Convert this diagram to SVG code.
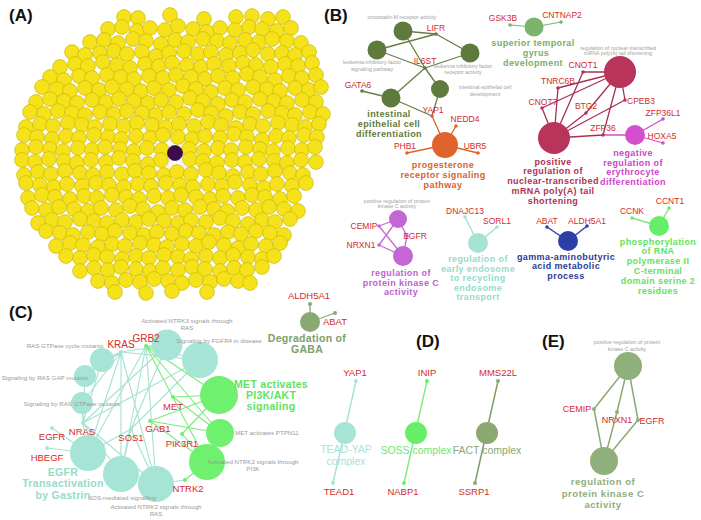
<svg xmlns="http://www.w3.org/2000/svg" xmlns:xlink="http://www.w3.org/1999/xlink" width="701" height="520" viewBox="0 0 701 520">
<style>
text{font-family:"Liberation Sans",Arial,sans-serif}
.hd{font-size:17px;font-weight:bold;fill:#111}
.yn{fill:#f5e21b;stroke:#c4b000;stroke-width:.6}
.g{font-size:8.5px;fill:#d42a2a;text-anchor:middle}
.g2{font-size:9.5px;fill:#d42a2a;text-anchor:middle}
.s{font-size:5.3px;fill:#a0a0a0;text-anchor:middle}
.s2{font-size:6.2px;fill:#9a9a9a;text-anchor:middle}
.b{font-size:9px;font-weight:bold;letter-spacing:.4px;text-anchor:middle}
.b2{font-size:10.5px;font-weight:bold;letter-spacing:.3px;text-anchor:middle}
.e{font-size:9.6px;font-weight:bold;letter-spacing:.5px;text-anchor:middle}
.d{font-size:10.5px;text-anchor:middle}
.ol{stroke:#6b7d46;stroke-width:1.3;fill:none}
.or{stroke:#d9642d;stroke-width:1.3;fill:none}
.lg{stroke:#7fb46a;stroke-width:1.2;fill:none}
.cr{stroke:#aa2f52;stroke-width:1.3;fill:none}
.mg{stroke:#d04fcc;stroke-width:1.3;fill:none}
.pu{stroke:#c46ad6;stroke-width:1.3;fill:none}
.te{stroke:#a4e2d2;stroke-width:1.1;fill:none}
.bl{stroke:#2c3fa6;stroke-width:1.4;fill:none}
.gr{stroke:#78ec78;stroke-width:1.1;fill:none}
.eo{stroke:#8aab76;stroke-width:1.5;fill:none}
.ga{stroke:#d2d2d2;stroke-width:.5;fill:none}
</style>
<defs>
<circle id="n" r="7.4" class="yn"/>
</defs>
<rect width="701" height="520" fill="#fff"/>

<!-- Panel A -->
<text class="hd" x="9" y="21">(A)</text>
<g id="A-edges">
<path class="ga" d="M175 153L124 17M175 153L204 19M175 153L283 17M175 153L72 52M175 153L309 52M175 153L42 89M175 153L321 89M175 153L30 113M175 153L323 113M175 153L22 149M175 153L315 149M175 153L24 173M175 153L303 173M175 153L28 197M175 153L294 197M175 153L46 233M175 153L284 233M175 153L80 269M175 153L262 269M175 153L115 292M175 153L207 292M175 153L146 292M175 153L250 281M175 153L98 281M175 153L60 65M175 153L312 65"/>
</g>
<g id="A-nodes">
<g transform="translate(0,17)"><use href="#n" x="124" y="0"/><use href="#n" x="138" y="1"/><use href="#n" x="170" y="-2"/><use href="#n" x="204" y="2"/><use href="#n" x="236" y="0"/><use href="#n" x="252" y="-1"/><use href="#n" x="268" y="2"/><use href="#n" x="283" y="0"/></g>
<g transform="translate(0,29)"><use href="#n" x="108" y="0"/><use href="#n" x="122" y="-2"/><use href="#n" x="137" y="2"/><use href="#n" x="150" y="-1"/><use href="#n" x="165" y="1"/><use href="#n" x="178" y="-3"/><use href="#n" x="193" y="0"/><use href="#n" x="207" y="3"/><use href="#n" x="220" y="-1"/><use href="#n" x="235" y="1"/><use href="#n" x="249" y="-2"/><use href="#n" x="262" y="0"/><use href="#n" x="277" y="2"/><use href="#n" x="291" y="-1"/></g>
<g transform="translate(0,41)"><use href="#n" x="90" y="1"/><use href="#n" x="104" y="-1"/><use href="#n" x="118" y="2"/><use href="#n" x="133" y="-2"/><use href="#n" x="146" y="0"/><use href="#n" x="161" y="3"/><use href="#n" x="175" y="-1"/><use href="#n" x="188" y="1"/><use href="#n" x="203" y="-2"/><use href="#n" x="217" y="0"/><use href="#n" x="230" y="2"/><use href="#n" x="245" y="-1"/><use href="#n" x="259" y="1"/><use href="#n" x="272" y="-2"/><use href="#n" x="287" y="0"/><use href="#n" x="301" y="2"/></g>
<g transform="translate(0,53)"><use href="#n" x="72" y="-1"/><use href="#n" x="85" y="2"/><use href="#n" x="100" y="0"/><use href="#n" x="114" y="-2"/><use href="#n" x="127" y="1"/><use href="#n" x="142" y="-1"/><use href="#n" x="156" y="3"/><use href="#n" x="169" y="0"/><use href="#n" x="184" y="-2"/><use href="#n" x="198" y="1"/><use href="#n" x="211" y="-1"/><use href="#n" x="226" y="2"/><use href="#n" x="240" y="0"/><use href="#n" x="253" y="-3"/><use href="#n" x="268" y="1"/><use href="#n" x="282" y="0"/><use href="#n" x="295" y="2"/><use href="#n" x="309" y="-1"/></g>
<g transform="translate(0,65)"><use href="#n" x="60" y="2"/><use href="#n" x="75" y="-1"/><use href="#n" x="88" y="1"/><use href="#n" x="103" y="-3"/><use href="#n" x="117" y="0"/><use href="#n" x="130" y="3"/><use href="#n" x="145" y="-1"/><use href="#n" x="159" y="1"/><use href="#n" x="172" y="-2"/><use href="#n" x="187" y="0"/><use href="#n" x="201" y="2"/><use href="#n" x="214" y="-1"/><use href="#n" x="229" y="1"/><use href="#n" x="243" y="-2"/><use href="#n" x="256" y="0"/><use href="#n" x="271" y="2"/><use href="#n" x="285" y="-1"/><use href="#n" x="298" y="1"/><use href="#n" x="312" y="-2"/></g>
<g transform="translate(0,77)"><use href="#n" x="50" y="0"/><use href="#n" x="64" y="3"/><use href="#n" x="79" y="-1"/><use href="#n" x="92" y="1"/><use href="#n" x="107" y="-2"/><use href="#n" x="121" y="0"/><use href="#n" x="134" y="2"/><use href="#n" x="149" y="-1"/><use href="#n" x="163" y="1"/><use href="#n" x="176" y="-2"/><use href="#n" x="191" y="0"/><use href="#n" x="205" y="2"/><use href="#n" x="218" y="-1"/><use href="#n" x="233" y="1"/><use href="#n" x="247" y="-3"/><use href="#n" x="260" y="0"/><use href="#n" x="275" y="3"/><use href="#n" x="289" y="-1"/><use href="#n" x="302" y="1"/><use href="#n" x="316" y="-2"/></g>
<g transform="translate(0,89)"><use href="#n" x="42" y="-2"/><use href="#n" x="57" y="0"/><use href="#n" x="70" y="2"/><use href="#n" x="85" y="-1"/><use href="#n" x="99" y="1"/><use href="#n" x="112" y="-2"/><use href="#n" x="127" y="0"/><use href="#n" x="141" y="2"/><use href="#n" x="154" y="-1"/><use href="#n" x="169" y="1"/><use href="#n" x="183" y="-3"/><use href="#n" x="196" y="0"/><use href="#n" x="211" y="3"/><use href="#n" x="225" y="-1"/><use href="#n" x="238" y="1"/><use href="#n" x="253" y="-2"/><use href="#n" x="267" y="0"/><use href="#n" x="280" y="2"/><use href="#n" x="295" y="-1"/><use href="#n" x="309" y="1"/><use href="#n" x="321" y="-2"/></g>
<g transform="translate(0,101)"><use href="#n" x="36" y="1"/><use href="#n" x="50" y="-2"/><use href="#n" x="64" y="0"/><use href="#n" x="77" y="2"/><use href="#n" x="92" y="-1"/><use href="#n" x="106" y="1"/><use href="#n" x="119" y="-2"/><use href="#n" x="134" y="0"/><use href="#n" x="148" y="2"/><use href="#n" x="161" y="-1"/><use href="#n" x="176" y="1"/><use href="#n" x="190" y="-3"/><use href="#n" x="203" y="0"/><use href="#n" x="218" y="3"/><use href="#n" x="232" y="-1"/><use href="#n" x="245" y="1"/><use href="#n" x="260" y="-2"/><use href="#n" x="274" y="0"/><use href="#n" x="287" y="2"/><use href="#n" x="302" y="-1"/><use href="#n" x="316" y="1"/></g>
<g transform="translate(0,113)"><use href="#n" x="30" y="-1"/><use href="#n" x="44" y="1"/><use href="#n" x="58" y="-2"/><use href="#n" x="72" y="0"/><use href="#n" x="85" y="2"/><use href="#n" x="100" y="-1"/><use href="#n" x="114" y="1"/><use href="#n" x="127" y="-2"/><use href="#n" x="142" y="0"/><use href="#n" x="156" y="2"/><use href="#n" x="169" y="-1"/><use href="#n" x="184" y="1"/><use href="#n" x="198" y="-3"/><use href="#n" x="211" y="0"/><use href="#n" x="226" y="3"/><use href="#n" x="240" y="-1"/><use href="#n" x="253" y="1"/><use href="#n" x="268" y="-2"/><use href="#n" x="282" y="0"/><use href="#n" x="295" y="2"/><use href="#n" x="310" y="-1"/><use href="#n" x="323" y="1"/></g>
<g transform="translate(0,125)"><use href="#n" x="26" y="2"/><use href="#n" x="40" y="-1"/><use href="#n" x="53" y="1"/><use href="#n" x="68" y="-2"/><use href="#n" x="82" y="0"/><use href="#n" x="95" y="2"/><use href="#n" x="110" y="-1"/><use href="#n" x="124" y="1"/><use href="#n" x="137" y="-2"/><use href="#n" x="152" y="0"/><use href="#n" x="166" y="2"/><use href="#n" x="179" y="-1"/><use href="#n" x="194" y="1"/><use href="#n" x="208" y="-3"/><use href="#n" x="221" y="0"/><use href="#n" x="236" y="3"/><use href="#n" x="250" y="-1"/><use href="#n" x="263" y="1"/><use href="#n" x="278" y="-2"/><use href="#n" x="292" y="0"/><use href="#n" x="305" y="2"/><use href="#n" x="319" y="-1"/></g>
<g transform="translate(0,137)"><use href="#n" x="24" y="-2"/><use href="#n" x="37" y="0"/><use href="#n" x="52" y="2"/><use href="#n" x="66" y="-1"/><use href="#n" x="79" y="1"/><use href="#n" x="94" y="-2"/><use href="#n" x="108" y="0"/><use href="#n" x="121" y="2"/><use href="#n" x="136" y="-1"/><use href="#n" x="150" y="1"/><use href="#n" x="163" y="-2"/><use href="#n" x="178" y="0"/><use href="#n" x="192" y="2"/><use href="#n" x="205" y="-1"/><use href="#n" x="220" y="1"/><use href="#n" x="234" y="-3"/><use href="#n" x="247" y="0"/><use href="#n" x="262" y="3"/><use href="#n" x="276" y="-1"/><use href="#n" x="289" y="1"/><use href="#n" x="304" y="-2"/><use href="#n" x="317" y="0"/></g>
<g transform="translate(0,149)"><use href="#n" x="22" y="1"/><use href="#n" x="36" y="-2"/><use href="#n" x="50" y="0"/><use href="#n" x="63" y="2"/><use href="#n" x="78" y="-1"/><use href="#n" x="92" y="1"/><use href="#n" x="105" y="-2"/><use href="#n" x="120" y="0"/><use href="#n" x="134" y="2"/><use href="#n" x="147" y="-1"/><use href="#n" x="162" y="1"/><use href="#n" x="189" y="0"/><use href="#n" x="204" y="2"/><use href="#n" x="218" y="-1"/><use href="#n" x="231" y="1"/><use href="#n" x="246" y="-2"/><use href="#n" x="260" y="0"/><use href="#n" x="273" y="2"/><use href="#n" x="288" y="-1"/><use href="#n" x="302" y="1"/><use href="#n" x="315" y="-2"/></g>
<g transform="translate(0,161)"><use href="#n" x="22" y="-1"/><use href="#n" x="35" y="1"/><use href="#n" x="49" y="-2"/><use href="#n" x="64" y="0"/><use href="#n" x="77" y="2"/><use href="#n" x="91" y="-1"/><use href="#n" x="106" y="1"/><use href="#n" x="119" y="-3"/><use href="#n" x="133" y="0"/><use href="#n" x="148" y="3"/><use href="#n" x="161" y="-1"/><use href="#n" x="190" y="-2"/><use href="#n" x="203" y="0"/><use href="#n" x="217" y="2"/><use href="#n" x="232" y="-1"/><use href="#n" x="245" y="1"/><use href="#n" x="259" y="-2"/><use href="#n" x="274" y="0"/><use href="#n" x="287" y="2"/><use href="#n" x="301" y="-1"/><use href="#n" x="316" y="1"/></g>
<g transform="translate(0,173)"><use href="#n" x="24" y="2"/><use href="#n" x="38" y="-1"/><use href="#n" x="51" y="1"/><use href="#n" x="65" y="-2"/><use href="#n" x="80" y="0"/><use href="#n" x="93" y="2"/><use href="#n" x="107" y="-1"/><use href="#n" x="122" y="1"/><use href="#n" x="135" y="-2"/><use href="#n" x="149" y="0"/><use href="#n" x="164" y="2"/><use href="#n" x="177" y="-1"/><use href="#n" x="191" y="1"/><use href="#n" x="206" y="-3"/><use href="#n" x="219" y="0"/><use href="#n" x="233" y="3"/><use href="#n" x="248" y="-1"/><use href="#n" x="261" y="1"/><use href="#n" x="275" y="-2"/><use href="#n" x="290" y="0"/><use href="#n" x="303" y="2"/></g>
<g transform="translate(0,185)"><use href="#n" x="26" y="-2"/><use href="#n" x="40" y="0"/><use href="#n" x="54" y="2"/><use href="#n" x="67" y="-1"/><use href="#n" x="82" y="1"/><use href="#n" x="96" y="-2"/><use href="#n" x="109" y="0"/><use href="#n" x="124" y="2"/><use href="#n" x="138" y="-1"/><use href="#n" x="151" y="1"/><use href="#n" x="166" y="-2"/><use href="#n" x="180" y="0"/><use href="#n" x="193" y="2"/><use href="#n" x="208" y="-1"/><use href="#n" x="222" y="1"/><use href="#n" x="235" y="-3"/><use href="#n" x="250" y="0"/><use href="#n" x="264" y="3"/><use href="#n" x="277" y="-1"/><use href="#n" x="292" y="1"/><use href="#n" x="306" y="-2"/></g>
<g transform="translate(0,197)"><use href="#n" x="28" y="1"/><use href="#n" x="42" y="-2"/><use href="#n" x="55" y="0"/><use href="#n" x="70" y="2"/><use href="#n" x="84" y="-1"/><use href="#n" x="97" y="1"/><use href="#n" x="112" y="-2"/><use href="#n" x="126" y="0"/><use href="#n" x="139" y="2"/><use href="#n" x="154" y="-1"/><use href="#n" x="168" y="1"/><use href="#n" x="181" y="-2"/><use href="#n" x="196" y="0"/><use href="#n" x="210" y="2"/><use href="#n" x="223" y="-1"/><use href="#n" x="238" y="1"/><use href="#n" x="252" y="-2"/><use href="#n" x="265" y="0"/><use href="#n" x="280" y="2"/><use href="#n" x="294" y="-1"/></g>
<g transform="translate(0,209)"><use href="#n" x="32" y="-1"/><use href="#n" x="46" y="1"/><use href="#n" x="59" y="-2"/><use href="#n" x="74" y="0"/><use href="#n" x="88" y="2"/><use href="#n" x="101" y="-1"/><use href="#n" x="116" y="1"/><use href="#n" x="130" y="-3"/><use href="#n" x="143" y="0"/><use href="#n" x="158" y="3"/><use href="#n" x="172" y="-1"/><use href="#n" x="185" y="1"/><use href="#n" x="200" y="-2"/><use href="#n" x="214" y="0"/><use href="#n" x="227" y="2"/><use href="#n" x="242" y="-1"/><use href="#n" x="256" y="1"/><use href="#n" x="269" y="-2"/><use href="#n" x="284" y="0"/><use href="#n" x="298" y="2"/></g>
<g transform="translate(0,221)"><use href="#n" x="38" y="2"/><use href="#n" x="52" y="-1"/><use href="#n" x="65" y="1"/><use href="#n" x="80" y="-2"/><use href="#n" x="94" y="0"/><use href="#n" x="107" y="2"/><use href="#n" x="122" y="-1"/><use href="#n" x="136" y="1"/><use href="#n" x="149" y="-2"/><use href="#n" x="164" y="0"/><use href="#n" x="178" y="2"/><use href="#n" x="191" y="-1"/><use href="#n" x="206" y="1"/><use href="#n" x="220" y="-3"/><use href="#n" x="233" y="0"/><use href="#n" x="248" y="3"/><use href="#n" x="262" y="-1"/><use href="#n" x="275" y="1"/><use href="#n" x="290" y="-2"/></g>
<g transform="translate(0,233)"><use href="#n" x="46" y="-2"/><use href="#n" x="60" y="0"/><use href="#n" x="73" y="2"/><use href="#n" x="88" y="-1"/><use href="#n" x="102" y="1"/><use href="#n" x="115" y="-2"/><use href="#n" x="130" y="0"/><use href="#n" x="144" y="2"/><use href="#n" x="157" y="-1"/><use href="#n" x="172" y="1"/><use href="#n" x="186" y="-2"/><use href="#n" x="199" y="0"/><use href="#n" x="214" y="2"/><use href="#n" x="228" y="-1"/><use href="#n" x="241" y="1"/><use href="#n" x="256" y="-2"/><use href="#n" x="270" y="0"/><use href="#n" x="284" y="2"/></g>
<g transform="translate(0,245)"><use href="#n" x="56" y="1"/><use href="#n" x="70" y="-2"/><use href="#n" x="83" y="0"/><use href="#n" x="98" y="2"/><use href="#n" x="112" y="-1"/><use href="#n" x="125" y="1"/><use href="#n" x="140" y="-2"/><use href="#n" x="154" y="0"/><use href="#n" x="167" y="2"/><use href="#n" x="182" y="-1"/><use href="#n" x="196" y="1"/><use href="#n" x="209" y="-3"/><use href="#n" x="224" y="0"/><use href="#n" x="238" y="3"/><use href="#n" x="251" y="-1"/><use href="#n" x="266" y="1"/><use href="#n" x="280" y="-2"/></g>
<g transform="translate(0,257)"><use href="#n" x="66" y="-1"/><use href="#n" x="80" y="1"/><use href="#n" x="94" y="-2"/><use href="#n" x="107" y="0"/><use href="#n" x="122" y="2"/><use href="#n" x="136" y="-1"/><use href="#n" x="149" y="1"/><use href="#n" x="164" y="-2"/><use href="#n" x="178" y="0"/><use href="#n" x="191" y="2"/><use href="#n" x="206" y="-1"/><use href="#n" x="220" y="1"/><use href="#n" x="233" y="-2"/><use href="#n" x="248" y="0"/><use href="#n" x="262" y="2"/><use href="#n" x="274" y="-1"/></g>
<g transform="translate(0,269)"><use href="#n" x="80" y="2"/><use href="#n" x="94" y="-1"/><use href="#n" x="108" y="1"/><use href="#n" x="121" y="-2"/><use href="#n" x="136" y="0"/><use href="#n" x="150" y="2"/><use href="#n" x="163" y="-1"/><use href="#n" x="178" y="1"/><use href="#n" x="192" y="-2"/><use href="#n" x="205" y="0"/><use href="#n" x="220" y="2"/><use href="#n" x="234" y="-1"/><use href="#n" x="247" y="1"/><use href="#n" x="262" y="-2"/></g>
<g transform="translate(0,281)"><use href="#n" x="98" y="0"/><use href="#n" x="112" y="2"/><use href="#n" x="126" y="-1"/><use href="#n" x="140" y="1"/><use href="#n" x="154" y="-2"/><use href="#n" x="168" y="0"/><use href="#n" x="182" y="2"/><use href="#n" x="196" y="-1"/><use href="#n" x="210" y="1"/><use href="#n" x="224" y="-2"/><use href="#n" x="238" y="0"/><use href="#n" x="250" y="2"/></g>
<g transform="translate(0,292)"><use href="#n" x="115" y="0"/><use href="#n" x="146" y="1"/><use href="#n" x="172" y="-1"/><use href="#n" x="207" y="0"/></g>
<circle cx="175" cy="153" r="7.6" fill="#3e0a4c" stroke="#22042a" stroke-width=".6"/>
</g>

<!-- Panel B -->
<text class="hd" x="324" y="21">(B)</text>
<g id="B-edges">
<path class="ol" d="M403 31L436 34M403 31L425 68M436 34L377 50M436 34L470 53M377 50L425 68M470 53L425 68M425 68L391 98M425 68L440 89M362 91L391 98M391 98L432 116M440 89L432 116"/>
<path class="or" d="M432 116L445 145M456 126L445 145M407 153L445 145M478 153L445 145"/>
<path class="lg" d="M510 25L534 27L561 22"/>
<path class="cr" d="M583 72L620 72M583 72L554 138M558 88L620 72M558 88L554 138M542 108L620 72M542 108L554 138M586 113L620 72M586 113L554 138M625 100L620 72M625 100L554 138M603 135L620 72M603 135L554 138"/>
<path class="mg" d="M603 135L635 135M663 119L635 135M663 143L635 135"/>
<path class="pu" d="M379 226L398 219M379 226L403 256M379 245L398 219M379 245L403 256M407 236L398 219M407 236L403 256"/>
<path class="te" d="M465 217L478 243M497 227L478 243" style="stroke-width:1.4"/>
<path class="bl" d="M547 227L568 241M587 226L568 241"/>
<path class="gr" d="M632 218L659 226M669 208L659 226" style="stroke-width:1.4"/>
</g>
<g id="B-olive" fill="#5e7a3c">
<circle cx="403" cy="31" r="9.5"/><circle cx="377" cy="50" r="9.5"/><circle cx="470" cy="53" r="9.5"/><circle cx="440" cy="89" r="9"/><circle cx="391" cy="98" r="9.5"/>
<circle cx="436" cy="34" r="1.8"/><circle cx="425" cy="68" r="1.8"/><circle cx="362" cy="91" r="1.8"/>
<text class="s" x="402" y="19">oncostatin-M receptor activity</text>
<text class="s" x="372" y="64">leukemia inhibitory factor</text><text class="s" x="372" y="71">signaling pathway</text>
<text class="s" x="463" y="68">leukemia inhibitory factor</text><text class="s" x="463" y="74">receptor activity</text>
<text class="s" x="485" y="89">intestinal epithelial cell</text><text class="s" x="485" y="96">development</text>
<text class="g" x="436" y="31">LIFR</text><text class="g" x="425" y="64">IL6ST</text><text class="g" x="358" y="88">GATA6</text>
<text class="b" x="389" y="117" fill="#5e7a3c">intestinal</text><text class="b" x="389" y="127" fill="#5e7a3c">epithelial cell</text><text class="b" x="389" y="137" fill="#5e7a3c">differentiation</text>
</g>
<g id="B-progesterone" fill="#e0632b">
<circle cx="445" cy="145" r="13"/>
<circle cx="432" cy="116" r="1.8"/><circle cx="456" cy="126" r="1.8"/><circle cx="407" cy="153" r="1.8"/><circle cx="478" cy="153" r="1.8"/>
<text class="g" x="433" y="113">YAP1</text><text class="g" x="465" y="122">NEDD4</text><text class="g" x="405" y="149">PHB1</text><text class="g" x="475" y="149">UBR5</text>
<text class="b" x="443" y="168" fill="#d9622a">progesterone</text><text class="b" x="443" y="178" fill="#d9622a">receptor signaling</text><text class="b" x="443" y="188" fill="#d9622a">pathway</text>
</g>
<g id="B-superior" fill="#7db36a">
<circle cx="534" cy="27" r="9.5"/><circle cx="510" cy="25" r="1.8"/><circle cx="561" cy="22" r="1.8"/>
<text class="g" x="503" y="21">GSK3B</text><text class="g" x="562" y="18">CNTNAP2</text>
<text class="b" x="533" y="46" fill="#7aae62">superior temporal</text><text class="b" x="536" y="56" fill="#7aae62">gyrus</text><text class="b" x="533" y="66" fill="#7aae62">development</text>
</g>
<g id="B-mrna" fill="#b8345a">
<circle cx="620" cy="72" r="16"/><circle cx="554" cy="138" r="16"/>
<circle cx="583" cy="72" r="1.8"/><circle cx="558" cy="88" r="1.8"/><circle cx="542" cy="108" r="1.8"/><circle cx="586" cy="113" r="1.8"/><circle cx="625" cy="100" r="1.8"/><circle cx="603" cy="135" r="1.8"/>
<text class="s" x="618" y="50">regulation of nuclear-transcribed</text><text class="s" x="618" y="55">mRNA poly(A) tail shortening</text>
<text class="g" x="583" y="68">CNOT1</text><text class="g" x="558" y="84">TNRC6B</text><text class="g" x="543" y="105">CNOT7</text><text class="g" x="586" y="109">BTG2</text><text class="g" x="641" y="104">CPEB3</text><text class="g" x="603" y="131">ZFP36</text>
<text class="b" x="553" y="165" fill="#b03055">positive</text><text class="b" x="553" y="174" fill="#b03055">regulation of</text><text class="b" x="553" y="184" fill="#b03055">nuclear-transcribed</text><text class="b" x="553" y="194" fill="#b03055">mRNA poly(A) tail</text><text class="b" x="553" y="204" fill="#b03055">shortening</text>
</g>
<g id="B-erythro" fill="#d34fce">
<circle cx="635" cy="135" r="10"/><circle cx="663" cy="119" r="1.8"/><circle cx="663" cy="143" r="1.8"/>
<text class="g" x="663" y="116">ZFP36L1</text><text class="g" x="662" y="139">HOXA5</text>
<text class="b" x="633" y="156" fill="#cc44c8">negative</text><text class="b" x="633" y="166" fill="#cc44c8">regulation of</text><text class="b" x="633" y="175" fill="#cc44c8">erythrocyte</text><text class="b" x="633" y="185" fill="#cc44c8">differentiation</text>
</g>
<g id="B-pkc" fill="#c566d6">
<circle cx="398" cy="219" r="9"/><circle cx="403" cy="256" r="10"/>
<circle cx="379" cy="226" r="1.8"/><circle cx="379" cy="245" r="1.8"/><circle cx="407" cy="236" r="1.8"/>
<text class="s" x="397" y="203">positive regulation of protein</text><text class="s" x="397" y="208">kinase C activity</text>
<text class="g" x="364" y="229">CEMIP</text><text class="g" x="361" y="248">NRXN1</text><text class="g" x="415" y="239">EGFR</text>
<text class="b" x="401" y="276" fill="#c060d0">regulation of</text><text class="b" x="401" y="286" fill="#c060d0">protein kinase C</text><text class="b" x="401" y="295" fill="#c060d0">activity</text>
</g>
<g id="B-endosome" fill="#a5e3d4">
<circle cx="478" cy="243" r="10"/><circle cx="465" cy="217" r="1.8"/><circle cx="497" cy="227" r="1.8"/>
<text class="g" x="465" y="214">DNAJC13</text><text class="g" x="497" y="224">SORL1</text>
<text class="b" x="478" y="262" fill="#95dccb">regulation of</text><text class="b" x="478" y="272" fill="#95dccb">early endosome</text><text class="b" x="478" y="281" fill="#95dccb">to recycling</text><text class="b" x="478" y="291" fill="#95dccb">endosome</text><text class="b" x="478" y="300" fill="#95dccb">transport</text>
</g>
<g id="B-gaba" fill="#2c3fa6">
<circle cx="568" cy="241" r="10"/><circle cx="547" cy="227" r="1.8"/><circle cx="587" cy="226" r="1.8"/>
<text class="g" x="547" y="224">ABAT</text><text class="g" x="587" y="224">ALDH5A1</text>
<text class="b" x="566" y="260" fill="#2a3a96">gamma-aminobutyric</text><text class="b" x="566" y="269" fill="#2a3a96">acid metabolic</text><text class="b" x="566" y="279" fill="#2a3a96">process</text>
</g>
<g id="B-rnapol" fill="#66ee6a">
<circle cx="659" cy="226" r="10"/><circle cx="632" cy="218" r="1.8"/><circle cx="669" cy="208" r="1.8"/>
<text class="g" x="632" y="214">CCNK</text><text class="g" x="670" y="204">CCNT1</text>
<text class="b" x="658" y="245" fill="#5ee35e">phosphorylation</text><text class="b" x="658" y="254" fill="#5ee35e">of RNA</text><text class="b" x="658" y="264" fill="#5ee35e">polymerase II</text><text class="b" x="658" y="274" fill="#5ee35e">C-terminal</text><text class="b" x="658" y="284" fill="#5ee35e">domain serine 2</text><text class="b" x="658" y="294" fill="#5ee35e">residues</text>
</g>

<!-- Panel C -->
<text class="hd" x="9" y="318">(C)</text>
<g id="C-edges">
<path class="te" d="M121 352L102 360M121 352L85 376M121 352L82 403M121 352L167 345M121 352L200 360M121 352L88 453M121 352L121 474M121 352L156 484
M83 423L102 360M83 423L85 376M83 423L82 403M83 423L167 345M83 423L200 360M83 423L88 453M83 423L121 474M83 423L156 484
M131 429L167 345M131 429L200 360M131 429L88 453M131 429L121 474M131 429L156 484
M146 346L167 345M146 346L200 360M146 346L88 453M146 346L121 474M146 346L156 484
M185 480L156 484M52 428L88 453M47 448L88 453"/>
<path class="gr" d="M146 346L219 395M146 346L220 433M146 346L207 462M173 397L219 395M173 397L220 433M150 421L219 395M150 421L220 433M150 421L207 462M182 434L219 395M182 434L207 462M185 480L207 462"/>
<path class="ol" d="M310 304L310 322M335 313L310 322" style="stroke:#8aa872"/>
</g>
<g id="C-teal" fill="#a6e5d5">
<circle cx="102" cy="360" r="12"/><circle cx="85" cy="376" r="11"/><circle cx="82" cy="403" r="11"/><circle cx="167" cy="345" r="15.5"/><circle cx="200" cy="360" r="18"/><circle cx="88" cy="453" r="18"/><circle cx="121" cy="474" r="18"/><circle cx="156" cy="484" r="18"/>
<circle cx="121" cy="352" r="2"/><circle cx="83" cy="423" r="2"/><circle cx="131" cy="429" r="2"/><circle cx="52" cy="428" r="2"/><circle cx="47" cy="448" r="2"/>
</g>
<g id="C-green" fill="#6ff06f">
<circle cx="219" cy="395" r="19"/><circle cx="220" cy="433" r="14"/><circle cx="207" cy="462" r="18"/>
<circle cx="146" cy="346" r="2"/><circle cx="173" cy="397" r="2"/><circle cx="150" cy="421" r="2"/><circle cx="182" cy="434" r="2"/><circle cx="185" cy="480" r="2"/>
</g>
<g id="C-labels">
<text class="s2" x="187" y="323">Activated NTRK3 signals through</text><text class="s2" x="187" y="330">RAS</text>
<text class="s2" x="65" y="348">RAS GTPase cycle mutants</text>
<text class="s2" x="219" y="343">Signaling by FGFR4 in disease</text>
<text class="s2" x="45" y="380">Signaling by RAS GAP mutants</text>
<text class="s2" x="72" y="406">Signaling by RAS GTPase mutants</text>
<text class="s2" x="122" y="500">SOS-mediated signalling</text>
<text class="s2" x="156" y="509">Activated NTRK2 signals through</text><text class="s2" x="156" y="516">RAS</text>
<text class="s2" x="235" y="435" style="text-anchor:start">MET activates PTPN11</text>
<text class="s2" x="253" y="464">Activated NTRK2 signals through</text><text class="s2" x="253" y="471">PI3K</text>
<text class="g2" x="121" y="348" style="font-size:10px">KRAS</text><text class="g2" x="146" y="342" style="font-size:10px">GRB2</text>
<text class="g2" x="82" y="435">NRAS</text><text class="g2" x="131" y="441">SOS1</text><text class="g2" x="52" y="440">EGFR</text><text class="g2" x="47" y="461">HBEGF</text>
<text class="g2" x="173" y="410">MET</text><text class="g2" x="158" y="432">GAB1</text><text class="g2" x="182" y="447">PIK3R1</text><text class="g2" x="188" y="492">NTRK2</text>
<text class="b2" x="63" y="476" fill="#95dccb">EGFR</text><text class="b2" x="63" y="487" fill="#95dccb">Transactivation</text><text class="b2" x="63" y="499" fill="#95dccb">by Gastrin</text>
<text class="b2" x="271" y="388" fill="#5ee35e">MET activates</text><text class="b2" x="271" y="399" fill="#5ee35e">PI3K/AKT</text><text class="b2" x="271" y="410" fill="#5ee35e">signaling</text>
</g>
<g id="C-gaba" fill="#8aa872">
<circle cx="310" cy="322" r="10"/><circle cx="310" cy="304" r="2"/><circle cx="335" cy="313" r="2"/>
<text class="g2" x="309" y="299">ALDH5A1</text><text class="g2" x="335" y="325">ABAT</text>
<text class="b2" x="307" y="342" fill="#7e9e6a">Degradation of</text><text class="b2" x="307" y="353" fill="#7e9e6a">GABA</text>
</g>

<!-- Panel D -->
<text class="hd" x="416" y="347">(D)</text>
<g id="D-edges">
<path class="te" d="M356 381L333 483" style="stroke-width:1.4"/>
<path class="gr" d="M427 381L404 483" style="stroke-width:1.4"/>
<path class="eo" d="M498 381L475 483" style="stroke:#7f9d6a"/>
</g>
<g id="D-tead" fill="#a6e5d5">
<circle cx="345" cy="433" r="11"/><circle cx="356" cy="381" r="2"/><circle cx="333" cy="483" r="2"/>
<text class="g2" x="355" y="376">YAP1</text><text class="g2" x="339" y="495">TEAD1</text>
<text class="d" x="346" y="453" fill="#a9e2d6">TEAD-YAP</text><text class="d" x="346" y="465" fill="#a9e2d6">complex</text>
</g>
<g id="D-soss" fill="#66f06a">
<circle cx="416" cy="433" r="11"/><circle cx="427" cy="381" r="2"/><circle cx="404" cy="483" r="2"/>
<text class="g2" x="427" y="376">INIP</text><text class="g2" x="403" y="495">NABP1</text>
<text class="d" x="416" y="454" fill="#6ee86e">SOSS complex</text>
</g>
<g id="D-fact" fill="#8aa872">
<circle cx="487" cy="433" r="11"/><circle cx="498" cy="381" r="2"/><circle cx="475" cy="483" r="2"/>
<text class="g2" x="498" y="376">MMS22L</text><text class="g2" x="474" y="495">SSRP1</text>
<text class="d" x="487" y="454" fill="#8aa872">FACT complex</text>
</g>

<!-- Panel E -->
<text class="hd" x="542" y="347">(E)</text>
<g id="E-edges">
<path class="eo" d="M628 366L594 409M628 366L617 412M628 366L638 420M604 461L594 409M604 461L617 412M604 461L638 420"/>
</g>
<g id="E-pkc" fill="#8fb07a">
<circle cx="628" cy="366" r="14"/><circle cx="604" cy="461" r="14"/>
<circle cx="594" cy="409" r="2"/><circle cx="617" cy="412" r="2"/><circle cx="638" cy="420" r="2"/>
<text class="s" x="627" y="344">positive regulation of protein</text><text class="s" x="627" y="351">kinase C activity</text>
<text class="g2" x="577" y="412" style="font-size:9px">CEMIP</text><text class="g2" x="617" y="423" style="font-size:9px">NRXN1</text><text class="g2" x="652" y="424" style="font-size:9px">EGFR</text>
<text class="e" x="603" y="485" fill="#8fae7c">regulation of</text><text class="e" x="603" y="496.5" fill="#8fae7c">protein kinase C</text><text class="e" x="603" y="508" fill="#8fae7c">activity</text>
</g>
</svg>
